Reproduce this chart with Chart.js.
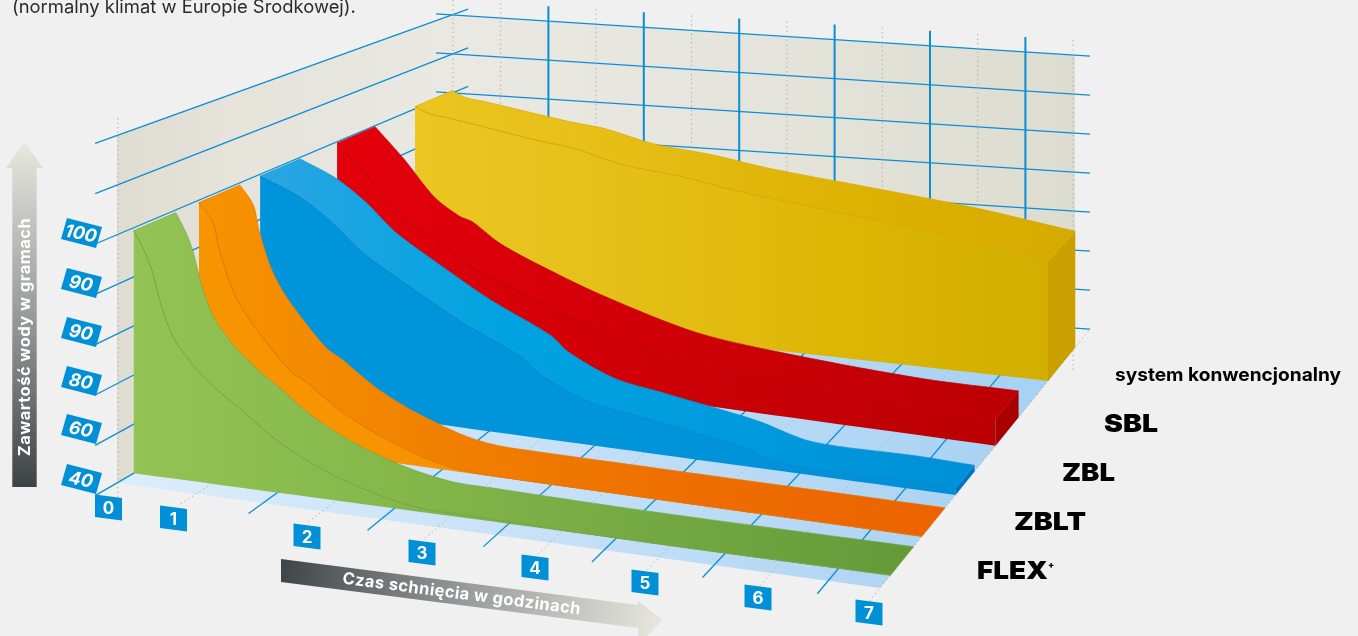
<!DOCTYPE html>
<html lang="pl"><head><meta charset="utf-8"><title>Czas schnięcia</title>
<style>html,body{margin:0;padding:0;background:#f0f0f0;overflow:hidden}canvas{display:block}</style>
<script src="https://cdn.jsdelivr.net/npm/chart.js@4/dist/chart.umd.min.js"></script></head>
<body><canvas id="c" width="1358" height="636" style="width:1358px;height:636px"></canvas>
<script>
// ---------- data ----------
const hourTicks = ['0','1','2','3','4','5','6','7'];
const valueTicks = ['40','60','80','90','90','100'];
const wallSteps = [0,1,2,3,4,5,6,7];
// values are positions on the water axis, measured in tick steps (0 = "40", 5 = "100")
const flexHours = [0,.14,.23,.33,.42,.54,.68,.84,1.1,1.22,1.5,1.86,2.32,2.73,3.08,4,5,7];
const flexValues = [5,4.6,4.25,3.66,3.23,2.83,2.55,2.27,1.84,1.62,1.07,.63,.26,.08,.06,.02,0,0];
const zbltHours = [0,.2,.29,.48,.72,1.16,1.3,1.6,1.95,2.37,2.65,2.9,7];
const zbltValues = [5,4.6,4.03,3.21,2.62,1.67,1.45,.92,.51,.16,.03,0,0];
const zblHours = [0,.6,1.06,1.32,1.78,2.22,2.81,2.98,3.42,3.94,4.85,5.4,6.43,7];
const zblValues = [5,4.66,4.18,3.6,2.93,2.35,1.72,1.4,.95,.76,.44,.14,.16,.14];
const sblHours = [0,.54,1.06,1.31,1.43,1.7,2.08,2.74,3.73,4.74,6.03,7];
const sblValues = [5,4.3,3.46,3.07,2.98,2.55,2.16,1.6,.98,.75,.6,.62];
const konwHours = [0,.3,.7,1.12,1.74,2.11,2.62,3.21,3.83,4.79,5.47,6,7];
const konwValues = [5.07,4.92,4.86,4.76,4.53,4.43,4.15,4.01,3.79,3.56,3.4,3.26,2.92];

// ---------- layout of the oblique view ----------
const frontStops = [117,196,263,322,381,438,496,550,604,659,714,771,828,880];
const lastP = 6.5;
const pos = h => h < 1 ? h / 2 : h - .5;
const xFront = p => { const k = Math.min(Math.floor(p * 2), 12), f = p * 2 - k; return frontStops[k] + (frontStops[k + 1] - frontStops[k]) * f; };
const xBack = p => 453 + 98 * p;
const xWall = p => 453 + 95.4 * p;
const yBackAt = x => 288 + .0645 * (x - 453);
const floorPt = (p, d) => { const xf = xFront(p), xb = xBack(p), yf = 483 + .1378 * (xf - 117), yb = yBackAt(xb);
  return { x: xf + (xb - xf) * d, y: yf + (yb - yf) * d }; };
const project = (h, v, dL, dR) => { const p = pos(h), d = dL + (dR - dL) * p / lastP, f = floorPt(p, d);
  return { x: f.x, y: f.y - v * (49 - 10 * d) }; };

const canvas = document.getElementById('c');
const ctx0 = canvas.getContext('2d');
const grad = (x0, x1, stops) => { const g = ctx0.createLinearGradient(x0, 0, x1, 0); stops.forEach((c, i) => g.addColorStop(stops.length > 1 ? i / (stops.length - 1) : 0, c)); return g; };

const datasets = [];
const add = (data, o) => datasets.push({ data, showLine: true, tension: o.tension || 0, pointRadius: 0, pointHoverRadius: 0, clip: false, order: -datasets.length,
  fill: o.fill ? 'shape' : false, backgroundColor: o.fill || 'transparent', borderColor: o.stroke || 'transparent', borderWidth: o.width === undefined ? 1 : o.width, borderDash: o.dash || [], borderCapStyle: 'butt' });

const BLUE = '#0b8ed6', DOT = '#b3b1ab', STEP = 39;
const leftLine = (d, i) => ({ x: 117 + 336 * d, y: 483 - 195 * d - i * (49.65 - 10.6 * d) });
const wallTop = x => yBackAt(x) - 7 * STEP;

// walls and floor
add([{x:117,y:483},leftLine(0,7),leftLine(1,7),leftLine(1,0)], { fill: grad(117,453,['#dfdcd1','#e5e3da','#e7e6de','#e9e8e2']) });
add([{x:453,y:wallTop(453)},{x:1075,y:wallTop(1075)},{x:1075,y:348},{x:453,y:288}], { fill: grad(453,1075,['#e9e8e2','#e5e4dc','#dddcd0']) });
add([{x:117,y:483},{x:880,y:588},{x:1075,y:348},{x:1075,y:328},{x:453,y:288}], { fill: grad(117,1000,['#dcedfb','#c6e0f7','#a8d2f2']) });

// wall scale lines
wallSteps.forEach(i => add([leftLine(-.065,i),leftLine(1.045,i)], { stroke: BLUE, width: 1.3 }));
wallSteps.forEach(i => add([{x:436,y:yBackAt(436)-i*STEP},{x:1090,y:yBackAt(1090)-i*STEP}], { stroke: BLUE, width: 1.3 }));
add([{x:118,y:118},{x:118,y:497}], { stroke: DOT, width: 1, dash: [1.5,3] });
hourTicks.forEach(t => { const p = pos(+t), x = xWall(p);
  add([{x,y:Math.max(wallTop(x)-15,0)},{x,y:t==='7'?370:yBackAt(x)}], { stroke: DOT, width: 1, dash: [1.5,3] });
  if (t !== '0') add([floorPt(p,-.05),floorPt(p,1)], { stroke: DOT, width: 1, dash: [1.5,3] }); });
hourTicks.slice(2).forEach(t => { const p = pos(+t) - .5, x = xWall(p);
  add([{x,y:wallTop(x)-15},{x,y:yBackAt(x)}], { stroke: BLUE, width: 2 });
  add([floorPt(p,-.05),floorPt(p,1)], { stroke: BLUE, width: 1.3 }); });

// ribbons, back to front
const CURVE = .3;
function ribbon(hours, values, s) {
  const front = hours.map((h, i) => project(h, values[i], s.dL0, s.dR0));
  const back = hours.map((h, i) => project(h, values[i], s.dL1, s.dR1));
  const last = hours.length - 1;
  const b0 = project(0, 0, s.dL0, s.dR0), b7 = project(7, 0, s.dL0, s.dR0), bb7 = project(7, 0, s.dL1, s.dR1);
  add([b7, front[last], back[last], bb7], { fill: s.end });
  // repeated points keep the corners sharp while the curve between them stays smooth
  add([front[0]].concat(front, [front[last], back[last]], back.slice().reverse(), [back[0], front[0]]),
    { fill: grad(b0.x, b7.x + 25, s.top), stroke: s.edge, width: .7, tension: CURVE });
  add([b0, b0, front[0]].concat(front, [front[last], b7, b7, b0, b0]), { fill: grad(b0.x, b7.x, s.face), tension: CURVE });
  add(front, { stroke: s.line, width: 1, tension: CURVE });
}
ribbon(konwHours, konwValues, { dL0:.887, dL1:.997, dR0:.8, dR1:.93, end:'#c9a000', edge:'#d9ac00',
  top:['#eac620','#e5bd15','#deb203','#d6aa00'], face:['#ecc723','#e4bf17','#ddb605','#d1ae00'], line:'#d6aa0c' });
ribbon(sblHours, sblValues, { dL0:.655, dL1:.768, dR0:.55, dR1:.66, end:'#a80000', edge:'#c9000a',
  top:['#e3000b','#d60009','#c80006','#bb0004'], face:['#e2000b','#d40008','#c60006','#bb0004'], line:'#bd000a' });
ribbon(zblHours, zblValues, { dL0:.426, dL1:.545, dR0:.36, dR1:.45, end:'#0073c4', edge:'#0a8fd4',
  top:['#2aa6e3','#00a3e0','#009ade','#008fd6'], face:['#0095da','#0095da','#0093d9','#008fd6'], line:'#0a88d0' });
ribbon(zbltHours, zbltValues, { dL0:.244, dL1:.366, dR0:.2, dR1:.31, end:'#ec6400', edge:'#ee7a00',
  top:['#f69300','#f08000','#ee6d00','#eb6300'], face:['#f79500','#f79300','#ef7000','#ec6400'], line:'#ea7405' });
ribbon(flexHours, flexValues, { dL0:.05, dL1:.175, dR0:.05, dR1:.16, end:'#639a38', edge:'#79a845',
  top:['#93c354','#86b74b','#74a842','#639a38'], face:['#93c354','#86b74b','#74a842','#639a38'], line:'#75a64a' });

// ---------- labels, tags and arrows ----------
const valueTagCenters = [479,429,381,332,283,233];
const hourTagCenters = [[108.5,507],[173.5,518],[307,536],[422,552],[535,567],[645,582],[758,597],[869,612]];
const systemLabels = [
  { t:'FLEX', x:977, y:571, f:'900 25px Inter', w:71 },
  { t:'ZBLT', x:1014, y:522, f:'900 25px Inter', w:72 },
  { t:'ZBL', x:1062, y:473, f:'900 25px Inter', w:53 },
  { t:'SBL', x:1104, y:424, f:'900 25px Inter', w:54 },
  { t:'system konwencjonalny', x:1115, y:375, f:'700 18.5px Inter', w:226 }
];
const textPlugin = { id:'texts', afterDatasetsDraw(chart) {
  const c = chart.ctx; c.save();
  const poly = (pts, fill) => { c.beginPath(); pts.forEach((p,i)=> i?c.lineTo(p[0],p[1]):c.moveTo(p[0],p[1])); c.closePath(); c.fillStyle = fill; c.fill(); };
  c.textBaseline = 'alphabetic'; c.textAlign = 'left';
  c.fillStyle = '#2b2b2b'; c.font = '18.4px Inter'; c.fillText('(normalny klimat w Europie Środkowej).', 12, 12.5);

  // vertical arrow
  let g = c.createLinearGradient(0,487,0,142); g.addColorStop(0,'#3d4245'); g.addColorStop(.45,'#8f9393'); g.addColorStop(1,'#e8e8e0');
  poly([[12.3,487],[36.7,487],[36.7,168],[43,168],[24.5,142],[6,168],[12.3,168]], g);
  c.save(); c.translate(30,337); c.rotate(-Math.PI/2); c.textAlign='center'; c.fillStyle='#fff'; c.font='700 16.6px Inter'; c.letterSpacing='0.4px'; c.fillText('Zawartość wody w gramach',0,0); c.restore();

  // slanted arrow
  g = c.createLinearGradient(281,559,663,623); g.addColorStop(0,'#3e4447'); g.addColorStop(.5,'#9a9d9d'); g.addColorStop(1,'#e8e8e0');
  poly([[281,559],[638,605],[638,601],[663,620],[638,645],[638,628],[281,582]], g);
  c.save(); c.translate(461,599); c.rotate(.1285); c.textAlign='center'; c.fillStyle='#fff'; c.font='700 16.6px Inter'; c.letterSpacing='0.4px'; c.fillText('Czas schnięcia w godzinach',0,0); c.restore();

  // value tags
  valueTicks.forEach((t,i)=>{ const y = valueTagCenters[i];
    poly([[67,y-15],[102,y-6],[96,y+15],[61,y+6]], '#0090d8');
    c.save(); c.translate(81,y); c.rotate(.2); c.textAlign='center'; c.fillStyle='#fff'; c.font='italic 700 18px Inter'; c.letterSpacing='0px'; c.fillText(t,0,6.5); c.restore(); });
  // hour tags
  hourTicks.forEach((t,i)=>{ const [x,y] = hourTagCenters[i];
    poly([[x-13.5,y-12.5],[x+13.5,y-9],[x+13.5,y+13.5],[x-13.5,y+10]], '#0090d8');
    c.textAlign='center'; c.fillStyle='#fff'; c.font='700 17px Inter'; c.fillText(t,x,y+6.5); });
  // system names
  c.textAlign='left'; c.fillStyle='#000';
  systemLabels.forEach(l=>{ c.font=l.f; c.textBaseline='middle';
    const m=c.measureText(l.t).width; c.save(); c.translate(l.x,l.y); c.scale(l.w/m,1); c.fillText(l.t,0,0); c.restore(); });
  c.font='900 9px Inter'; c.fillText('+',1048,565);
  c.restore();
}};

new Chart(canvas, { type:'line', data:{ datasets }, plugins:[textPlugin], options:{
  responsive:false, animation:false, events:[], layout:{padding:0},
  plugins:{ legend:{display:false}, tooltip:{enabled:false}, title:{display:false} },
  scales:{ x:{ type:'linear', min:0, max:1358, display:false }, y:{ type:'linear', min:0, max:636, reverse:true, display:false } }
}});
</script></body></html>
